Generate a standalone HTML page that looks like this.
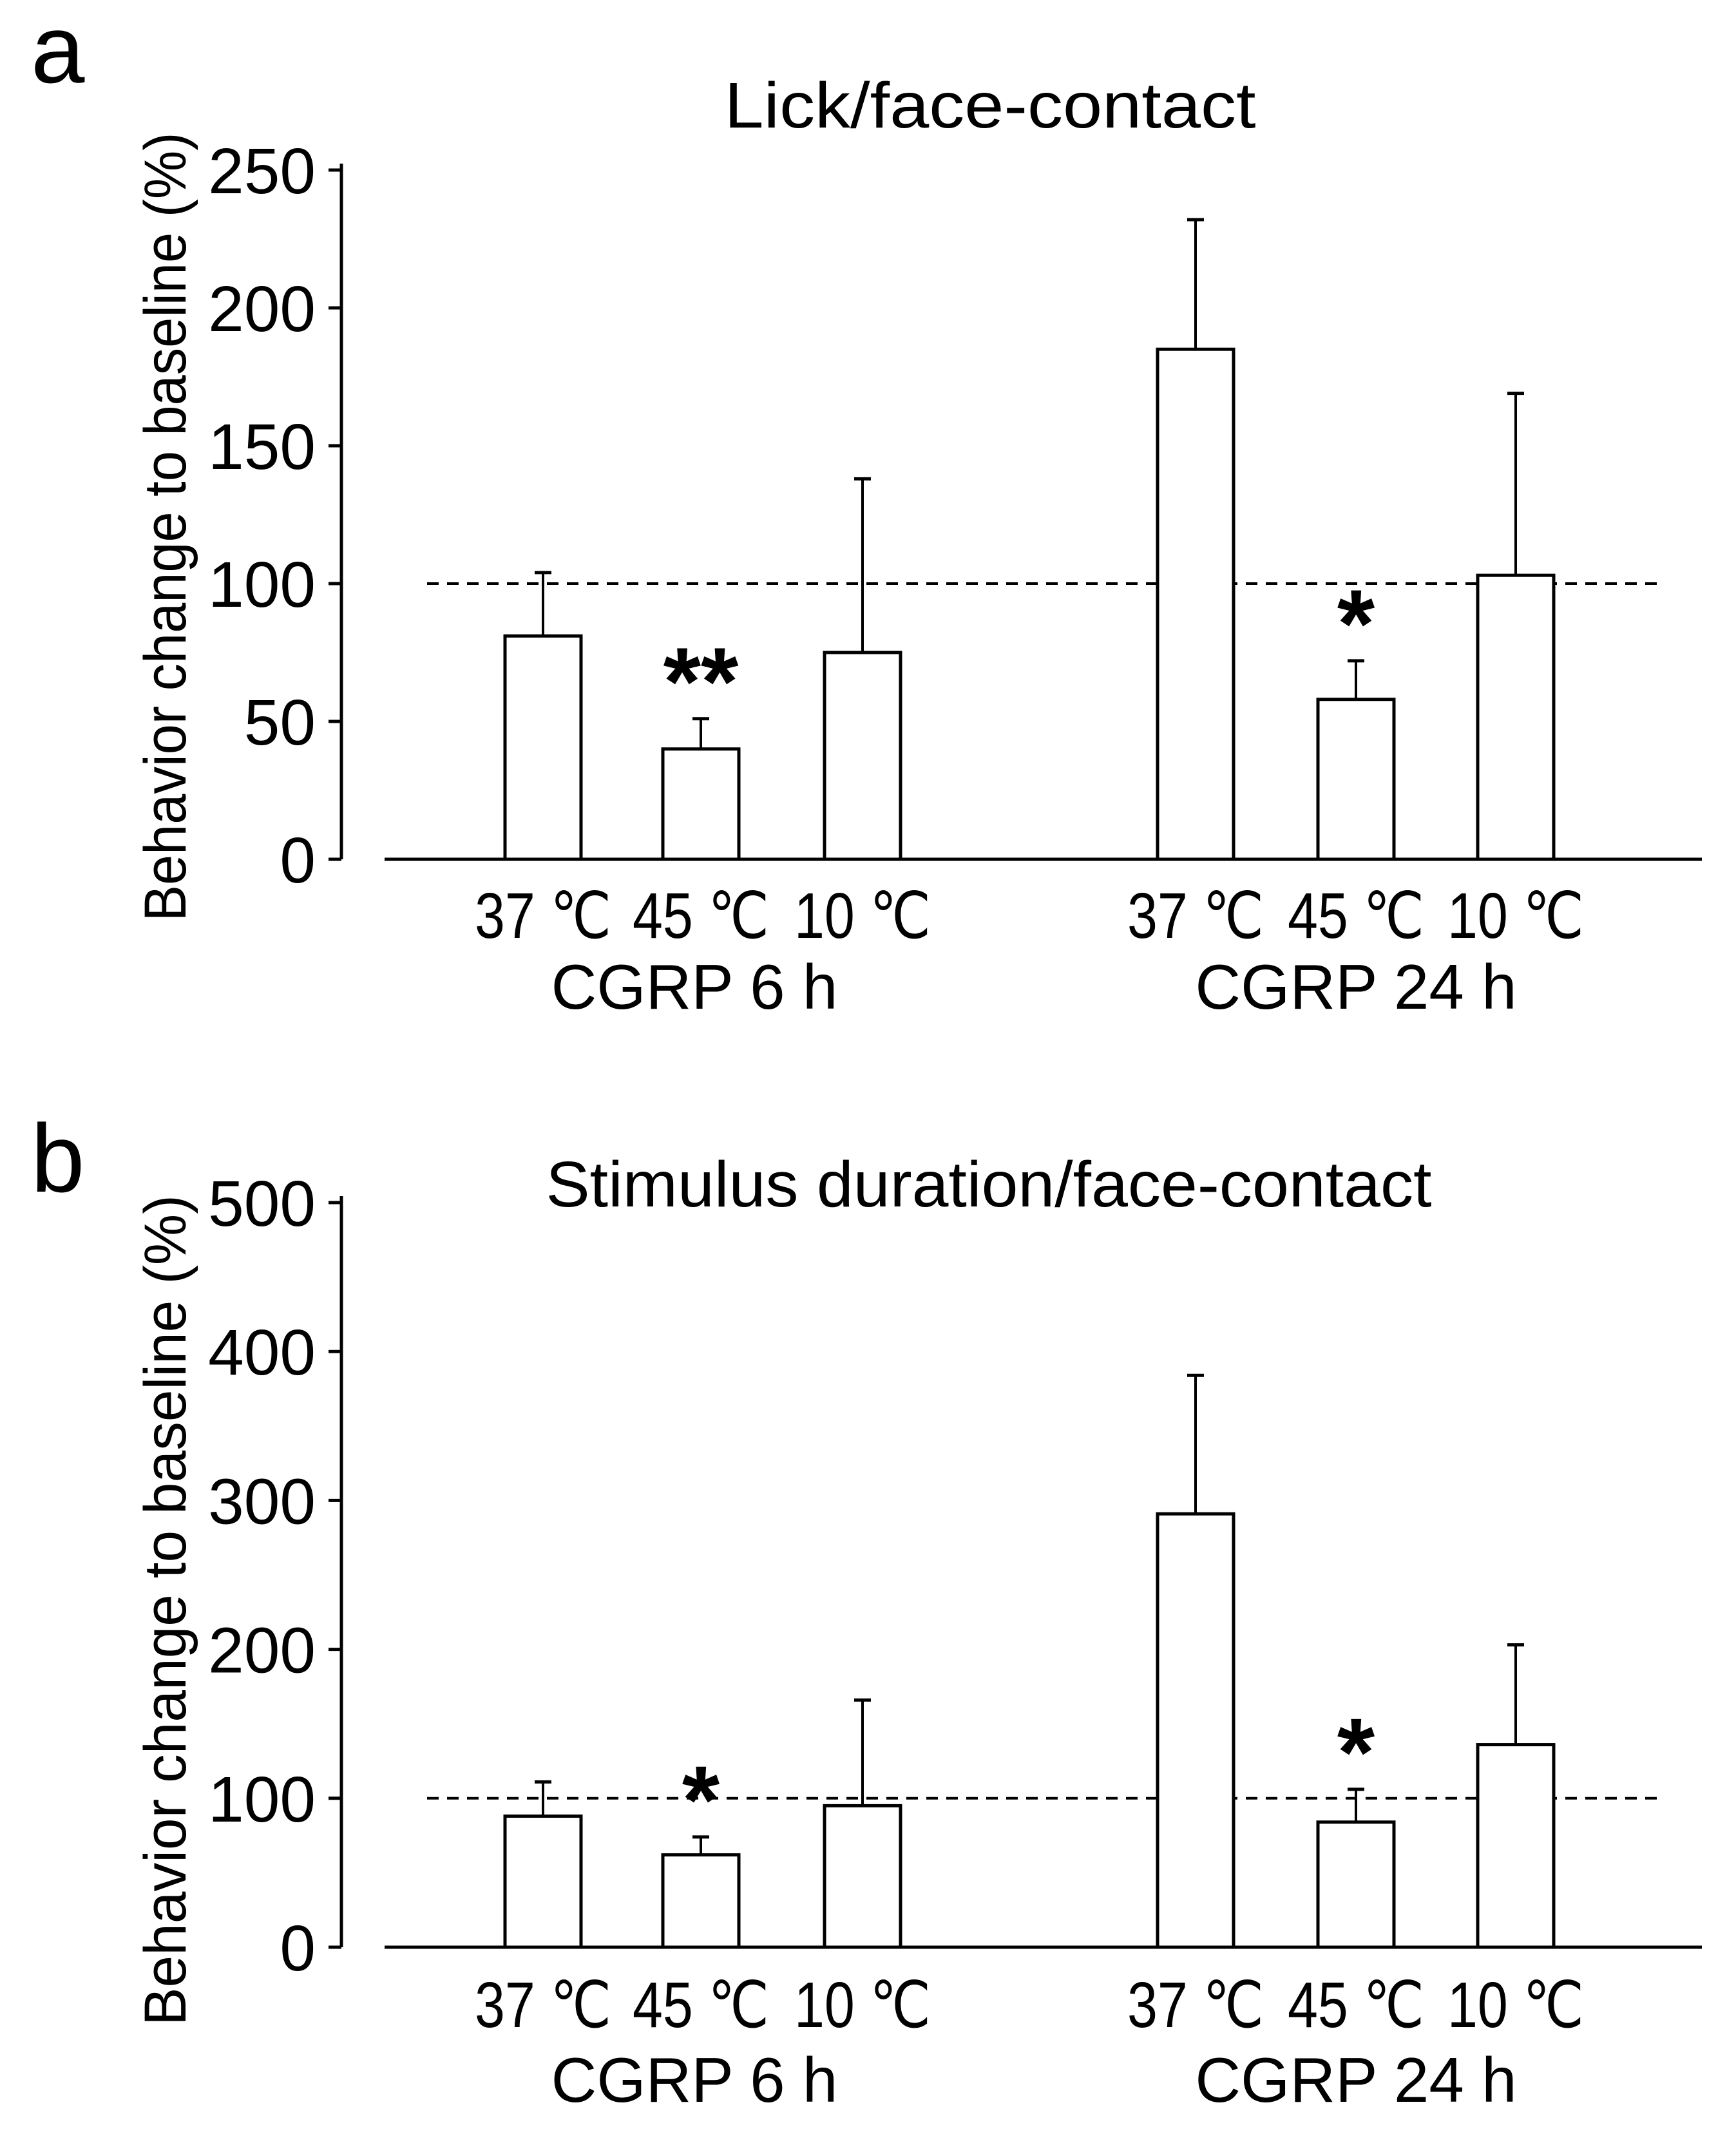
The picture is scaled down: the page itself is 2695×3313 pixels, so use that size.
<!DOCTYPE html>
<html><head><meta charset="utf-8"><style>
html,body{margin:0;padding:0;background:#fff;}
svg{display:block;font-family:"Liberation Sans",sans-serif;}
</style></head><body>
<svg id="fig" width="2695" height="3313" viewBox="0 0 2695 3313" xmlns="http://www.w3.org/2000/svg">
<text x="48" y="128" font-size="150">a</text>
<text x="48" y="1850" font-size="150">b</text>
<text x="1537" y="198" font-size="100" text-anchor="middle" textLength="825" lengthAdjust="spacingAndGlyphs">Lick/face-contact</text>
<text x="1535" y="1873" font-size="100" text-anchor="middle" textLength="1375" lengthAdjust="spacingAndGlyphs">Stimulus duration/face-contact</text>
<text transform="translate(288,818) rotate(-90)" font-size="92" text-anchor="middle" textLength="1225" lengthAdjust="spacingAndGlyphs">Behavior change to baseline (%)</text>
<text transform="translate(288,2500) rotate(-90)" font-size="92" text-anchor="middle" textLength="1290" lengthAdjust="spacingAndGlyphs">Behavior change to baseline (%)</text>
<g id="pa"></g>
<g id="pb"></g>
</svg>
<script>
const categories = ["37 \u2103","45 \u2103","10 \u2103","37 \u2103","45 \u2103","10 \u2103"];
const groups = ["CGRP 6 h","CGRP 24 h"];
const valuesA = [81,40,75,185,58,103];
const errTopA = [104,51,138,232,72,169];
const ticksA = [0,50,100,150,200,250];
const sigA = ["","**","","","*",""];
const valuesB = [88,62,95,291,84,136];
const errTopB = [111,74,166,384,106,203];
const ticksB = [0,100,200,300,400,500];
const sigB = ["","*","","","*",""];
const baseline = 100;

const NS="http://www.w3.org/2000/svg";
const barCenters=[843,1088,1339,1856,2105,2353];
const groupCenters=[1078,2105];
function mk(parent,tag,attrs){const e=document.createElementNS(NS,tag);for(const k in attrs)e.setAttribute(k,attrs[k]);parent.appendChild(e);return e;}
function draw(g,vals,errs,ticks,sig,y0,yTop,maxV,catY,grpY,name){
  const ys=v=>y0-(v/maxV)*(y0-yTop);
  const ax=mk(g,'line',{x1:530,y1:ys(maxV)-10,x2:530,y2:y0,stroke:'#000','stroke-width':5});
  
  
  ticks.forEach(t=>{
    const tl=mk(g,'line',{x1:510,y1:ys(t),x2:530,y2:ys(t),stroke:'#000','stroke-width':5});
    
    
    const tx=mk(g,'text',{x:490,y:ys(t)+36,'font-size':100,'text-anchor':'end'});
    tx.textContent=t;
    
    
  });
  const dl=mk(g,'line',{x1:663,y1:ys(baseline),x2:2585,y2:ys(baseline),stroke:'#000','stroke-width':4,'stroke-dasharray':'18,13'});
  
  
  vals.forEach((v,i)=>{
    const cx=barCenters[i],w=118;
    const eb=mk(g,'line',{x1:cx,y1:ys(errs[i]),x2:cx,y2:ys(v),stroke:'#000','stroke-width':4});
    
    
    const cap=mk(g,'line',{x1:cx-13,y1:ys(errs[i]),x2:cx+13,y2:ys(errs[i]),stroke:'#000','stroke-width':5});
    
    
    const r=mk(g,'rect',{x:cx-w/2,y:ys(v),width:w,height:y0-ys(v),fill:'#fff',stroke:'#000','stroke-width':5});
    
    
    const ct=mk(g,'text',{x:cx,y:catY,'font-size':100,'text-anchor':'middle',textLength:212,lengthAdjust:'spacingAndGlyphs'});
    ct.textContent=categories[i];
    
    
    if(sig[i]){
      const s=mk(g,'text',{x:cx,y:ys(errs[i])-92+86,'font-size':150,'font-weight':'bold','text-anchor':'middle'});
      s.textContent=sig[i];
      
      
    }
  });
  const xa=mk(g,'line',{x1:597,y1:y0,x2:2642,y2:y0,stroke:'#000','stroke-width':5});
  
  
  groups.forEach((gn,i)=>{
    const t=mk(g,'text',{x:groupCenters[i],y:grpY,'font-size':98,'text-anchor':'middle'});
    t.textContent=gn;
    
    
  });
}
draw(document.getElementById('pa'),valuesA,errTopA,ticksA,sigA,1334,264,250,1456,1566,'a');
draw(document.getElementById('pb'),valuesB,errTopB,ticksB,sigB,3023,1867,500,3147,3263,'b');
</script>
</body></html>
